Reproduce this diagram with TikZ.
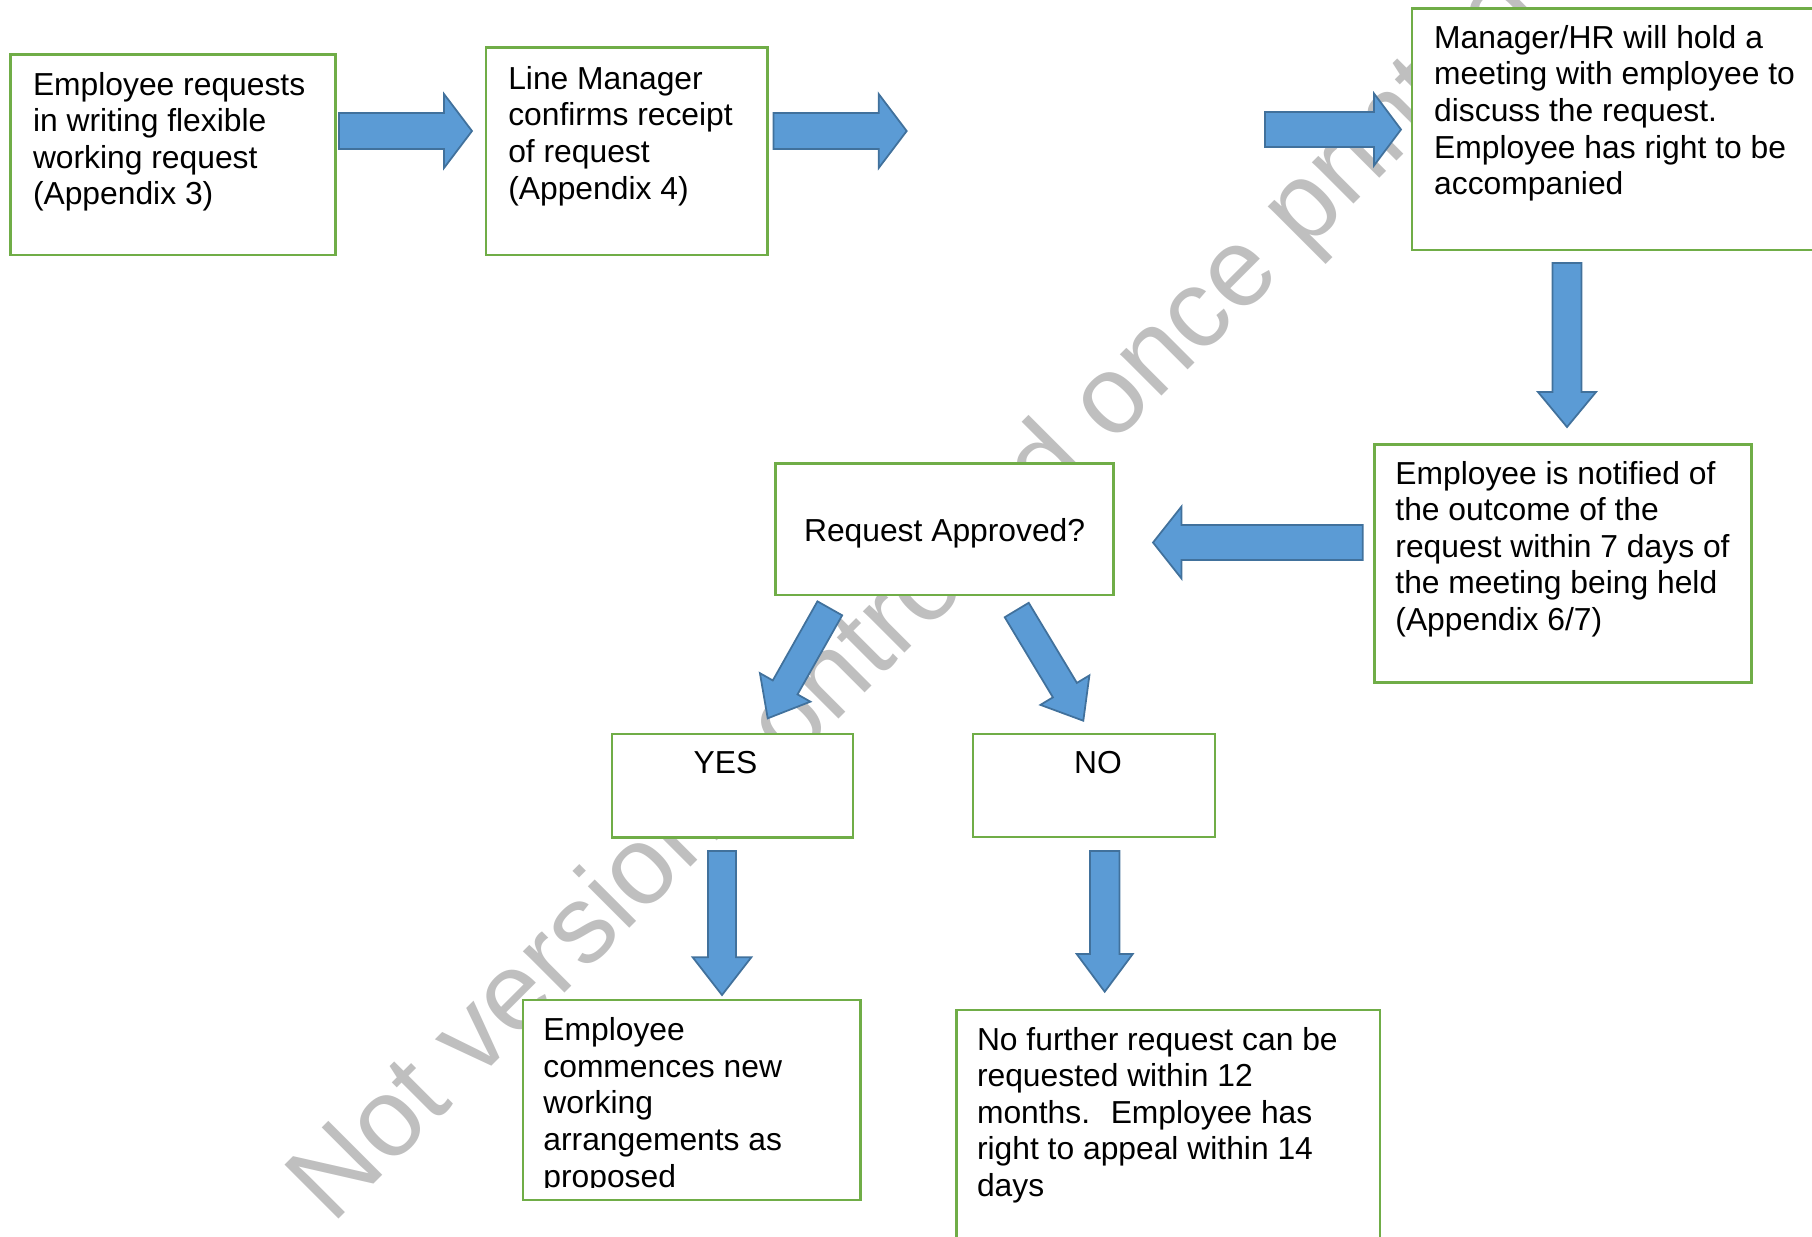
\documentclass[tikz,border=0pt]{standalone}
\usepackage{fontspec}
\setmainfont{Liberation Sans}
\usepackage{tikz}
\usetikzlibrary{calc}
\usetikzlibrary{positioning}
\definecolor{BoxGreen}{RGB}{112,173,71}
\definecolor{ArrowBlue}{RGB}{91,155,213}
\definecolor{ArrowEdge}{RGB}{65,113,156}
\definecolor{MarkGray}{RGB}{191,191,191}

% block arrow: from, to, half shaft, half head, head length
\newcommand{\blockarrow}[5]{%
  \coordinate (ahb) at ($(#2)!#5!(#1)$);
  \filldraw [barrow] ($(#1)!#3!90:(#2)$) -- ($(ahb)!#3!90:(#2)$) -- ($(ahb)!#4!90:(#2)$) -- (#2)
     -- ($(ahb)!#4!-90:(#2)$) -- ($(ahb)!#3!-90:(#2)$) -- ($(#1)!#3!-90:(#2)$) -- cycle;
}
\newcommand{\boxlines}[1]{\begin{tabular}[t]{@{}l@{}}#1\end{tabular}}

\begin{document}
\begin{tikzpicture}[x=0.1mm, y=-0.1mm,
 block/.style = {draw=BoxGreen, line width=0.7pt, fill=white, rectangle, anchor=north west,
                 inner sep=0pt, outer sep=0pt},
 txt/.style = {anchor=base west, inner sep=0pt, font=\fontsize{9.05}{10.41}\selectfont},
 barrow/.style = {fill=ArrowBlue, draw=ArrowEdge, line width=0.5pt, line join=miter},
                        ]
    \useasboundingbox (0,0) rectangle (1812,1236);

    % watermark behind everything
    \node [anchor=base west, rotate=45, inner sep=0pt, text=MarkGray,
           font=\fontsize{31.56}{36}\selectfont] (mark) at (332,1226) {Not version controlled once printed};

    \node [block, minimum width=32.5mm, minimum height=20.07mm] (empReq) at (10.6,54.3) {};
    \node [txt] (empReqText) at ($(empReq.north west)+(21.7,40.7)$)
          {\boxlines{Employee requests\\in writing flexible\\working request\\(Appendix 3)}};

    \node [block, minimum width=28.16mm, minimum height=20.77mm] (lmConfirm) at (486,47.3) {};
    \node [txt] (lmConfirmText) at ($(lmConfirm.north west)+(21.6,42)$)
          {\boxlines{Line Manager\\confirms receipt\\of request\\(Appendix 4)}};

    \node [block, minimum width=42mm, minimum height=24.17mm] (meeting) at (1412,8.3) {};
    \node [txt] (meetingText) at ($(meeting.north west)+(21.5,40)$)
          {\boxlines{Manager/HR will hold a\\meeting with employee to\\discuss the request.\\Employee has right to be\\accompanied}};

    \node [block, minimum width=37.7mm, minimum height=23.8mm] (notified) at (1374.7,444.3) {};
    \node [txt] (notifiedText) at ($(notified.north west)+(20,39.7)$)
          {\boxlines{Employee is notified of\\the outcome of the\\request within 7 days of\\the meeting being held\\(Appendix 6/7)}};

    \node [block, minimum width=33.8mm, minimum height=13.17mm] (approved) at (775.6,463.3) {};
    \node [txt, anchor=base] (approvedText) at ($(approved.north)+(0,77.7)$) {Request Approved?};

    \node [block, minimum width=24.1mm, minimum height=10.33mm] (yes) at (612,734) {};
    \node [txt, anchor=base] (yesText) at ($(yes.north)+(-7,39)$) {YES};

    \node [block, minimum width=24.2mm, minimum height=10.3mm] (no) at (973,734) {};
    \node [txt, anchor=base] (noText) at ($(no.north)+(4,39)$) {NO};

    \node [block, minimum width=33.74mm, minimum height=20mm] (commence) at (523,1000) {};
    \begin{scope}
      \clip (commence.north west) rectangle ($(commence.south east)+(0,-13)$);
      \node [txt] (commenceText) at ($(commence.north west)+(19.7,40.7)$)
            {\boxlines{Employee\\commences new\\working\\arrangements as\\proposed}};
    \end{scope}

    \node [block, minimum width=42.35mm, minimum height=26mm] (noFurther) at (956.5,1010) {};
    \node [txt] (noFurtherText) at ($(noFurther.north west)+(19.8,40)$)
          {\boxlines{No further request can be\\requested within 12\\months.~ Employee has\\right to appeal within 14\\days}};

    % arrow ends
    \coordinate (a1s) at (339,131);     \coordinate (a1e) at (472,131);
    \coordinate (a2s) at (773.5,131);   \coordinate (a2e) at (906.7,131);
    \coordinate (a3s) at (1265,129.5);  \coordinate (a3e) at (1401,129.5);
    \coordinate (a4s) at (1567,263);    \coordinate (a4e) at (1567,427);
    \coordinate (a5s) at (1362.7,542.5);\coordinate (a5e) at (1153,542.5);
    \coordinate (a6s) at (829.8,608.3); \coordinate (a6e) at (767.7,718.3);
    \coordinate (a7s) at (1016.7,610);  \coordinate (a7e) at (1083.3,720.7);
    \coordinate (a8s) at (722,851);     \coordinate (a8e) at (722,995);
    \coordinate (a9s) at (1104.7,851);  \coordinate (a9e) at (1104.7,991.7);

    \blockarrow{a1s}{a1e}{1.8mm}{3.7mm}{2.8mm}
    \blockarrow{a2s}{a2e}{1.8mm}{3.7mm}{2.8mm}
    \blockarrow{a3s}{a3e}{1.75mm}{3.6mm}{2.7mm}
    \blockarrow{a4s}{a4e}{1.45mm}{2.9mm}{3.5mm}
    \blockarrow{a5s}{a5e}{1.75mm}{3.6mm}{2.85mm}
    \blockarrow{a6s}{a6e}{1.42mm}{2.9mm}{3.55mm}
    \blockarrow{a7s}{a7e}{1.4mm}{2.86mm}{3.57mm}
    \blockarrow{a8s}{a8e}{1.4mm}{2.93mm}{3.77mm}
    \blockarrow{a9s}{a9e}{1.47mm}{2.8mm}{3.77mm}

\end{tikzpicture}
\end{document}
